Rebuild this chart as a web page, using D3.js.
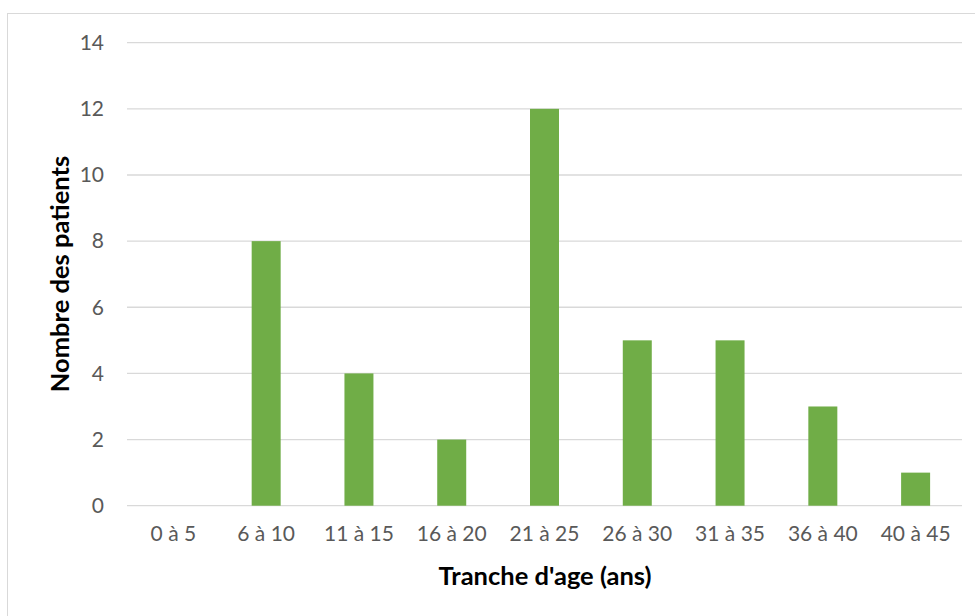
<!DOCTYPE html>
<html><head><meta charset="utf-8">
<script src="https://cdn.jsdelivr.net/npm/d3@7"></script>
<style>body{margin:0;background:#fff}svg{display:block}</style>
</head><body>
<script>
const categories = ["0 à 5","6 à 10","11 à 15","16 à 20","21 à 25","26 à 30","31 à 35","36 à 40","40 à 45"];
const values = [0, 8, 4, 2, 12, 5, 5, 3, 1];
const yTicks = [0, 2, 4, 6, 8, 10, 12, 14];
const xTitle = "Tranche d'age (ans)";
const yTitle = "Nombre des patients";

const W = 975, H = 616;
const m = {left: 127, right: 13, top: 42.7, bottom: 110.3};
const svg = d3.select("body").append("svg").attr("width", W).attr("height", H);
const font = "Lato, 'Open Sans', sans-serif";

svg.append("rect").attr("x", 7.5).attr("y", 13.5).attr("width", W - 7).attr("height", H - 13)
  .attr("fill", "#fff").attr("stroke", "#d9d9d9");

const x = d3.scaleBand().domain(categories).range([m.left, W - m.right]).paddingInner(0.6875).paddingOuter(0.34375);
const y = d3.scaleLinear().domain([0, 14]).range([H - m.bottom, m.top]);

svg.append("g").selectAll("line").data(yTicks).join("line")
  .attr("x1", m.left).attr("x2", W - m.right)
  .attr("y1", d => y(d)).attr("y2", d => y(d))
  .attr("stroke", "#d9d9d9").attr("stroke-width", 1.3);

svg.append("g").selectAll("rect").data(values).join("rect")
  .attr("x", (d, i) => x(categories[i])).attr("width", x.bandwidth())
  .attr("y", d => y(d)).attr("height", d => y(0) - y(d))
  .attr("fill", "#70ad47");

const yAxis = svg.append("g").attr("transform", `translate(${m.left - 23},0)`)
  .call(d3.axisLeft(y).tickValues(yTicks).tickSize(0).tickPadding(0));
yAxis.select(".domain").remove();
yAxis.selectAll("text").attr("fill", "#595959").style("font-family", font).style("font-size", "21px");

const xAxis = svg.append("g").attr("transform", `translate(0,${y(0) + 20})`)
  .call(d3.axisBottom(x).tickSize(0).tickPadding(0));
xAxis.select(".domain").remove();
xAxis.selectAll("text").attr("fill", "#595959").style("font-family", font).style("font-size", "21px");

svg.append("text").attr("x", 545).attr("y", 585)
  .attr("text-anchor", "middle").attr("fill", "#000").style("font-family", font)
  .style("font-size", "25.5px").style("font-weight", "bold").text(xTitle);

svg.append("text").attr("transform", `translate(69,${274}) rotate(-90)`)
  .attr("text-anchor", "middle").attr("fill", "#000").style("font-family", font)
  .style("font-size", "25.5px").style("font-weight", "bold").text(yTitle);
</script>
</body></html>
